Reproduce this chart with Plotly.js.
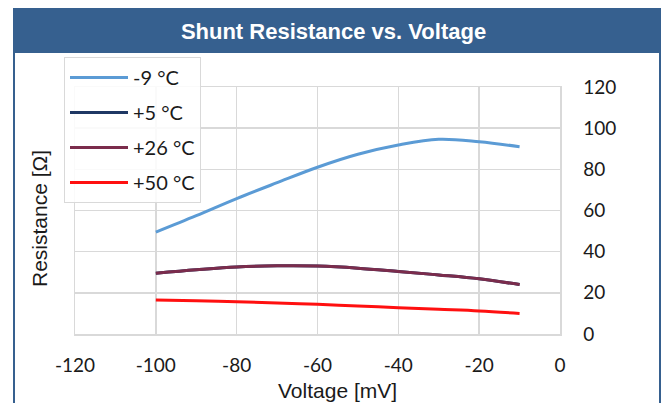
<!DOCTYPE html>
<html>
<head>
<meta charset="utf-8">
<script src="https://cdn.plot.ly/plotly-3.0.1.min.js"></script>
<style>html,body{margin:0;padding:0;background:#fff;}#chart{width:667px;height:403px;}</style>
</head>
<body>
<div id="chart"></div>
<script>
// Data
const voltage = [-100, -90, -80, -70, -60, -50, -40, -30, -20, -10];
const seriesNames = ['-9 °C', '+5 °C', '+26 °C', '+50 °C'];
const rMinus9 = [49.5, 57.5, 65.8, 73.5, 81, 87.3, 91.8, 94.6, 93.4, 91];
const rPlus5 = [29.5, 31.2, 32.6, 33.1, 33, 32, 30.4, 28.7, 26.8, 24];
const rPlus26 = [29.5, 31.2, 32.6, 33.1, 33, 32, 30.4, 28.7, 26.8, 24];
const rPlus50 = [16.5, 16.1, 15.7, 15.1, 14.4, 13.6, 12.8, 12, 11.2, 10];
const xTicks = [-120, -100, -80, -60, -40, -20, 0];
const yTicks = [0, 20, 40, 60, 80, 100, 120];

const colors = ['#5b9bd5', '#1f3864', '#7b2c4c', '#ff1010'];
const values = [rMinus9, rPlus5, rPlus26, rPlus50];

const traces = values.map((v, i) => ({
  x: voltage, y: v, name: seriesNames[i], type: 'scatter', mode: 'lines',
  line: {color: colors[i], width: 3, shape: 'spline', smoothing: 1},
  legendgroup: 'g' + i
}));

const L = 75, R = 560, T = 87, B = 334, W = 667, H = 403;
const px = x => (x - L) / (R - L);
const py = y => (B - y) / (B - T);
const barColor = '#36608f';
const titleFont = {family: 'Liberation Sans, Arial, sans-serif', size: 21, color: '#1a1a1a'};

const layout = {
  width: W, height: H,
  margin: {l: L, r: W - R, t: T, b: H - B},
  paper_bgcolor: '#ffffff', plot_bgcolor: '#ffffff',
  showlegend: true,
  title: {text: 'Shunt Resistance vs. Voltage', x: 0.5, xref: 'container', xanchor: 'center',
          y: 1 - 31 / H, yref: 'container', yanchor: 'middle',
          font: {family: 'Liberation Sans, Arial, sans-serif', size: 22, color: '#ffffff', weight: 'bold'}},
  xaxis: {range: [-120, 0], tickvals: xTicks, ticktext: xTicks.map(String),
          showgrid: true, gridcolor: '#d9d9d9', gridwidth: 1.5, zeroline: false,
          showline: true, linecolor: '#d9d9d9', linewidth: 1.5, mirror: true,
          ticks: '', ticklabelstandoff: 14,
          tickfont: {family: 'Lato, sans-serif', size: 19, color: '#1a1a1a'}},
  yaxis: {range: [0, 120], tickvals: yTicks, ticktext: yTicks.map(String), side: 'right',
          showgrid: true, gridcolor: '#d9d9d9', gridwidth: 1.5, zeroline: false,
          showline: true, linecolor: '#d9d9d9', linewidth: 1.5, mirror: true,
          ticks: '', ticklabelstandoff: 18,
          tickfont: {family: 'Lato, sans-serif', size: 19, color: '#1a1a1a'}},
  legend: {x: px(64), y: py(57), xanchor: 'left', yanchor: 'top',
           bgcolor: 'rgba(255,255,255,0.85)', bordercolor: '#d9d9d9', borderwidth: 1,
           font: {family: 'Lato, sans-serif', size: 20, color: '#1a1a1a'},
           traceorder: 'grouped', tracegroupgap: 6, itemwidth: 58},
  annotations: [
    {text: 'Resistance [Ω]', xref: 'paper', yref: 'paper', x: px(40), y: py(219),
     xanchor: 'center', yanchor: 'middle', textangle: -90, showarrow: false, font: titleFont},
    {text: 'Voltage [mV]', xref: 'paper', yref: 'paper', x: px(337.5), y: py(390),
     xanchor: 'center', yanchor: 'middle', showarrow: false, font: titleFont}
  ],
  shapes: [
    {type: 'rect', xref: 'paper', yref: 'paper', x0: px(13), x1: px(661), y0: py(53), y1: py(8),
     fillcolor: barColor, line: {width: 0}, layer: 'below'},
    {type: 'line', xref: 'paper', yref: 'paper', x0: px(14), x1: px(14), y0: py(53), y1: py(405),
     line: {color: barColor, width: 2}},
    {type: 'line', xref: 'paper', yref: 'paper', x0: px(660), x1: px(660), y0: py(53), y1: py(405),
     line: {color: barColor, width: 2}}
  ]
};

Plotly.newPlot('chart', traces, layout, {staticPlot: true, displayModeBar: false});
</script>
</body>
</html>
